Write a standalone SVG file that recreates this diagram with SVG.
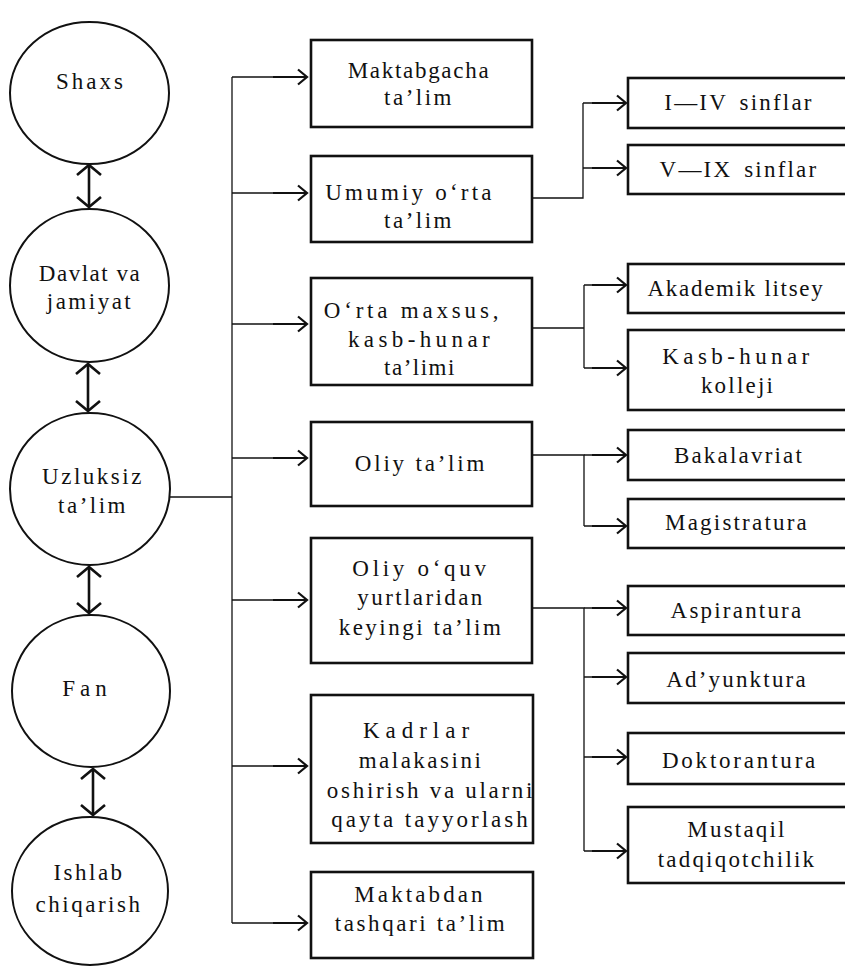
<svg xmlns="http://www.w3.org/2000/svg" width="845" height="967" viewBox="0 0 845 967">
<style>
.bg{fill:#fff}
.node ellipse{fill:#fff;stroke:#111;stroke-width:2}
.node rect{fill:#fff;stroke:#111;stroke-width:2.6}
text{font-family:'Liberation Serif','DejaVu Serif',serif;font-size:23px;fill:#111;text-anchor:middle;letter-spacing:2.5px}
.r text{letter-spacing:2.2px}
.conn path{fill:none;stroke:#111;stroke-width:1.3}
.conn .dbl{stroke-width:2.6}
</style>
<defs>
<marker id="arr" markerUnits="userSpaceOnUse" orient="auto" refX="0" refY="0" markerWidth="40" markerHeight="20" overflow="visible">
<path d="M-34,0 H0 M-9,-7.5 L0,0 L-9,7.5" fill="none" stroke="#111" stroke-width="2.2"/>
</marker>
<marker id="dar" markerUnits="userSpaceOnUse" orient="auto-start-reverse" refX="0" refY="0" markerWidth="30" markerHeight="30" overflow="visible">
<path d="M-10,-12 L0,0 L-10,12" fill="none" stroke="#111" stroke-width="2.6"/>
</marker>
</defs>
<rect class="bg" x="0" y="0" width="845" height="967"/>

<g id="connectors" class="conn">
<path class="dbl" d="M89,165 V207" marker-start="url(#dar)" marker-end="url(#dar)"/>
<path class="dbl" d="M88,364 V411" marker-start="url(#dar)" marker-end="url(#dar)"/>
<path class="dbl" d="M89,567 V613" marker-start="url(#dar)" marker-end="url(#dar)"/>
<path class="dbl" d="M93,769 V815" marker-start="url(#dar)" marker-end="url(#dar)"/>
<path d="M170,497 H232"/>
<path d="M232,77 V923"/>
<path d="M232,77 H307" marker-end="url(#arr)"/>
<path d="M232,193 H307" marker-end="url(#arr)"/>
<path d="M232,324 H307" marker-end="url(#arr)"/>
<path d="M232,458 H307" marker-end="url(#arr)"/>
<path d="M232,600 H307" marker-end="url(#arr)"/>
<path d="M232,766 H307" marker-end="url(#arr)"/>
<path d="M232,923 H307" marker-end="url(#arr)"/>
<path d="M532,198 H583 V103"/>
<path d="M583,103 H626" marker-end="url(#arr)"/>
<path d="M583,168 H626" marker-end="url(#arr)"/>
<path d="M532,328 H584"/>
<path d="M584,285 V368"/>
<path d="M584,285 H626" marker-end="url(#arr)"/>
<path d="M584,368 H626" marker-end="url(#arr)"/>
<path d="M532,455 H584 V526"/>
<path d="M584,455 H626" marker-end="url(#arr)"/>
<path d="M584,526 H626" marker-end="url(#arr)"/>
<path d="M532,608 H584 V851"/>
<path d="M584,608 H626" marker-end="url(#arr)"/>
<path d="M584,677 H626" marker-end="url(#arr)"/>
<path d="M584,757 H626" marker-end="url(#arr)"/>
<path d="M584,851 H626" marker-end="url(#arr)"/>
</g>

<g font-family="Liberation Serif, DejaVu Serif, serif">
<g id="shaxs" class="node"><ellipse cx="89.5" cy="93" rx="79.5" ry="71"/><text x="91" y="89" style="letter-spacing:3px">Shaxs</text></g>
<g id="davlat" class="node"><ellipse cx="89.5" cy="285.5" rx="79.5" ry="76.5"/><text x="90" y="281" style="letter-spacing:1.5px">Davlat va</text><text x="90" y="309">jamiyat</text></g>
<g id="uzluksiz" class="node"><ellipse cx="90" cy="489" rx="80" ry="76"/><text x="93" y="484">Uzluksiz</text><text x="93" y="513">ta’lim</text></g>
<g id="fan" class="node"><ellipse cx="91" cy="691" rx="79" ry="76"/><text x="87" y="696" style="letter-spacing:5px">Fan</text></g>
<g id="ishlab" class="node"><ellipse cx="90" cy="891" rx="78" ry="74"/><text x="89" y="880">Ishlab</text><text x="89" y="912">chiqarish</text></g>

<g id="maktabgacha" class="node"><rect x="311" y="40" width="221" height="87"/><text x="419" y="78" style="letter-spacing:1.7px">Maktabgacha</text><text x="419" y="105">ta’lim</text></g>
<g id="umumiy" class="node"><rect x="311" y="156" width="221" height="86"/><text x="410" y="200" style="letter-spacing:3.2px">Umumiy o‘rta</text><text x="419" y="228">ta’lim</text></g>
<g id="ortamaxsus" class="node"><rect x="311" y="278" width="221" height="107"/><text x="413" y="318" style="letter-spacing:3.8px">O‘rta maxsus,</text><text x="421" y="347" style="letter-spacing:4.4px">kasb-hunar</text><text x="420" y="375" style="letter-spacing:1.5px">ta’limi</text></g>
<g id="oliy" class="node"><rect x="311" y="422" width="221" height="84"/><text x="421" y="471" style="letter-spacing:2.8px">Oliy ta’lim</text></g>
<g id="oliyoquv" class="node"><rect x="311" y="538" width="221" height="125"/><text x="421" y="576" style="letter-spacing:3.7px">Oliy o‘quv</text><text x="421" y="605" style="letter-spacing:2.4px">yurtlaridan</text><text x="421" y="635">keyingi ta’lim</text></g>
<g id="kadrlar" class="node"><rect x="311" y="695" width="222" height="148"/><text x="419" y="738" style="letter-spacing:6px">Kadrlar</text><text x="421" y="768">malakasini</text><text x="431" y="798" style="letter-spacing:2.7px">oshirish va ularni</text><text x="431" y="827" style="letter-spacing:3px">qayta tayyorlash</text></g>
<g id="maktabdan" class="node"><rect x="311" y="872" width="222" height="86"/><text x="420" y="902" style="letter-spacing:3.1px">Maktabdan</text><text x="421" y="931" style="letter-spacing:2.6px">tashqari ta’lim</text></g>

<g class="r">
<g id="sinf14" class="node"><rect x="628" y="78" width="220" height="50"/><text x="739" y="110" style="word-spacing:4px">I—IV sinflar</text></g>
<g id="sinf59" class="node"><rect x="628" y="145" width="220" height="49"/><text x="739" y="177" style="word-spacing:4px">V—IX sinflar</text></g>
<g id="akademik" class="node"><rect x="628" y="264" width="220" height="49"/><text x="736" y="296" style="letter-spacing:1.7px">Akademik litsey</text></g>
<g id="kollej" class="node"><rect x="628" y="330" width="220" height="80"/><text x="738" y="364" style="letter-spacing:4.4px">Kasb-hunar</text><text x="738" y="393">kolleji</text></g>
<g id="bakalavriat" class="node"><rect x="628" y="430" width="220" height="50"/><text x="739" y="463">Bakalavriat</text></g>
<g id="magistratura" class="node"><rect x="628" y="499" width="220" height="49"/><text x="737" y="530">Magistratura</text></g>
<g id="aspirantura" class="node"><rect x="628" y="586" width="220" height="49"/><text x="737" y="618">Aspirantura</text></g>
<g id="adyunktura" class="node"><rect x="628" y="653" width="220" height="50"/><text x="737" y="687">Ad’yunktura</text></g>
<g id="doktorantura" class="node"><rect x="628" y="733" width="220" height="51"/><text x="740" y="768" style="letter-spacing:2.8px">Doktorantura</text></g>
<g id="mustaqil" class="node"><rect x="628" y="807" width="220" height="76"/><text x="737" y="837">Mustaqil</text><text x="737" y="867">tadqiqotchilik</text></g>
</g>
</g>
</svg>
